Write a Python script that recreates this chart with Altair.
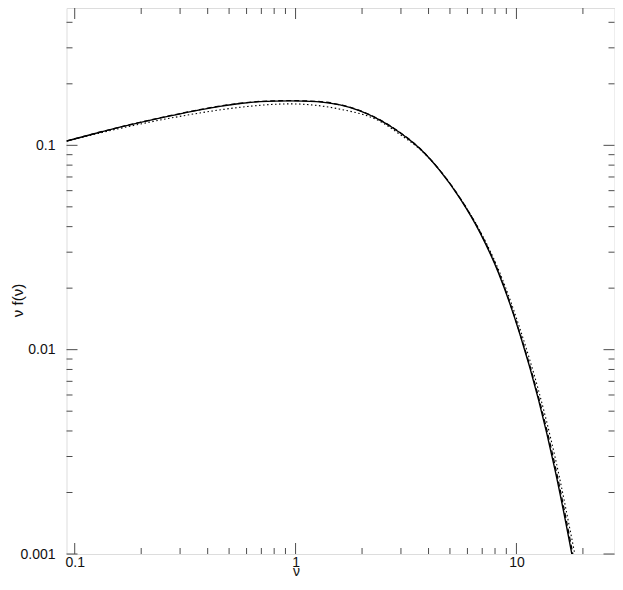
import altair as alt
import pandas as pd

# ---- data ----
nu_solid = [0.0918, 0.1212, 0.1717, 0.2606, 0.3688, 0.4544, 0.56, 0.69, 0.943, 1.246,
            1.589, 1.958, 2.412, 2.972, 3.662, 4.512, 5.559, 6.85, 8.288, 10.39,
            12.58, 14.98, 17.70, 19.0]
f_solid = [0.1049, 0.1136, 0.1248, 0.1382, 0.1492, 0.1552, 0.1602, 0.1636, 0.1651, 0.1637,
           0.1577, 0.1475, 0.1329, 0.1153, 0.0962, 0.0750, 0.0549, 0.0373, 0.0238, 0.01182,
           0.00571, 0.00256, 0.001039, 0.000689]

nu_dashed = [0.0918, 0.1212, 0.1717, 0.2606, 0.3688, 0.4544, 0.56, 0.69, 0.943, 1.246,
             1.589, 1.958, 2.412, 2.972, 3.662, 4.512, 5.559, 6.85, 8.288, 10.39,
             12.58, 14.98, 17.70, 19.0]
f_dashed = [0.1050, 0.1138, 0.1251, 0.1385, 0.1496, 0.1556, 0.1606, 0.1640, 0.1655, 0.1641,
            0.1580, 0.1478, 0.1332, 0.1155, 0.0964, 0.0752, 0.0551, 0.0376, 0.0241, 0.01195,
            0.00588, 0.00269, 0.00110, 0.00073]

nu_dotted = [0.0918, 0.1212, 0.1717, 0.2606, 0.3688, 0.56, 0.943, 1.589, 2.412, 2.972,
             3.662, 4.512, 5.559, 6.85, 8.288, 10.39, 12.58, 14.98, 17.70, 19.0]
f_dotted = [0.1049, 0.1129, 0.1230, 0.1348, 0.1440, 0.1535, 0.1595, 0.1503, 0.1310, 0.1130,
            0.0955, 0.0752, 0.0552, 0.0380, 0.0247, 0.0126, 0.00634, 0.00296, 0.00123, 0.00083]

x_major = [0.1, 1, 10]
x_minor = [0.2, 0.3, 0.4, 0.5, 0.6, 0.7, 0.8, 0.9, 2, 3, 4, 5, 6, 7, 8, 9, 20]
y_major = [0.001, 0.01, 0.1]
y_minor = [0.002, 0.003, 0.004, 0.005, 0.006, 0.007, 0.008, 0.009,
           0.02, 0.03, 0.04, 0.05, 0.06, 0.07, 0.08, 0.09, 0.2, 0.3, 0.4]

X_DOMAIN = [0.0918, 27.8]
Y_DOMAIN = [0.001, 0.47]

# ---- layout / style ----
W, H = 548, 546
FONT = "Liberation Sans"
FRAME = "#4d4d4d"
MAJ, MIN = 11, 6

xs = alt.Scale(type="log", domain=X_DOMAIN, nice=False)
ys = alt.Scale(type="log", domain=Y_DOMAIN, nice=False)

xaxis = alt.Axis(values=x_major, format="~g", ticks=False, domain=False, grid=False,
                 labelFont=FONT, labelFontSize=14, labelColor="#111", labelPadding=1,
                 labelFlush=False,
                 title="ν", titleFont=FONT, titleFontSize=14, titleFontWeight="normal",
                 titleColor="#111", titleX=229.5, titleY=21, titleBaseline="alphabetic",
                 titleAlign="center")
yaxis = alt.Axis(values=y_major, format="~g", ticks=False, domain=False, grid=False,
                 labelFont=FONT, labelFontSize=14, labelColor="#111", labelPadding=11.5,
                 labelFlush=False,
                 title="ν f(ν)", titleFont=FONT, titleFontSize=15, titleFontWeight="normal",
                 titleColor="#111", titleAngle=270, titleX=-49.5, titleY=292,
                 titleBaseline="middle", titleAlign="center")


def curve(nu, f, width, dash=None):
    df = pd.DataFrame({"nu": nu, "f": f})
    kw = dict(color="black", strokeWidth=width, clip=True, interpolate="monotone")
    if dash is not None:
        kw["strokeDash"] = dash
    return alt.Chart(df).mark_line(**kw).encode(
        x=alt.X("nu:Q", scale=xs, axis=xaxis),
        y=alt.Y("f:Q", scale=ys, axis=yaxis),
    )


def xticks(vals, y0, y1):
    return alt.Chart(pd.DataFrame({"v": vals})).mark_rule(color=FRAME, strokeWidth=1).encode(
        x=alt.X("v:Q", scale=xs, axis=xaxis), y=alt.value(y0), y2=alt.value(y1))


def yticks(vals, x0, x1):
    return alt.Chart(pd.DataFrame({"v": vals})).mark_rule(color=FRAME, strokeWidth=1).encode(
        y=alt.Y("v:Q", scale=ys, axis=yaxis), x=alt.value(x0), x2=alt.value(x1))


layers = [
    xticks(x_major, H, H - MAJ), xticks(x_minor, H, H - MIN),
    xticks(x_major, 0, MAJ), xticks(x_minor, 0, MIN),
    yticks(y_major, 0, MAJ), yticks(y_minor, 0, MIN),
    yticks(y_major, W, W - MAJ), yticks(y_minor, W, W - MIN),
    curve(nu_dotted, f_dotted, 1.1, [1.5, 2.5]),
    curve(nu_dashed, f_dashed, 1.3, [5, 3]),
    curve(nu_solid, f_solid, 1.4),
]

chart = alt.layer(*layers).properties(
    width=W, height=H,
    autosize=alt.AutoSizeParams(type="none"),
    padding={"left": 58.5, "top": 0, "right": 0.5, "bottom": 24},
).configure_view(stroke=FRAME, strokeWidth=1).configure(background="white")

chart.save("out.html", embed_options={"renderer": "svg", "actions": False})
